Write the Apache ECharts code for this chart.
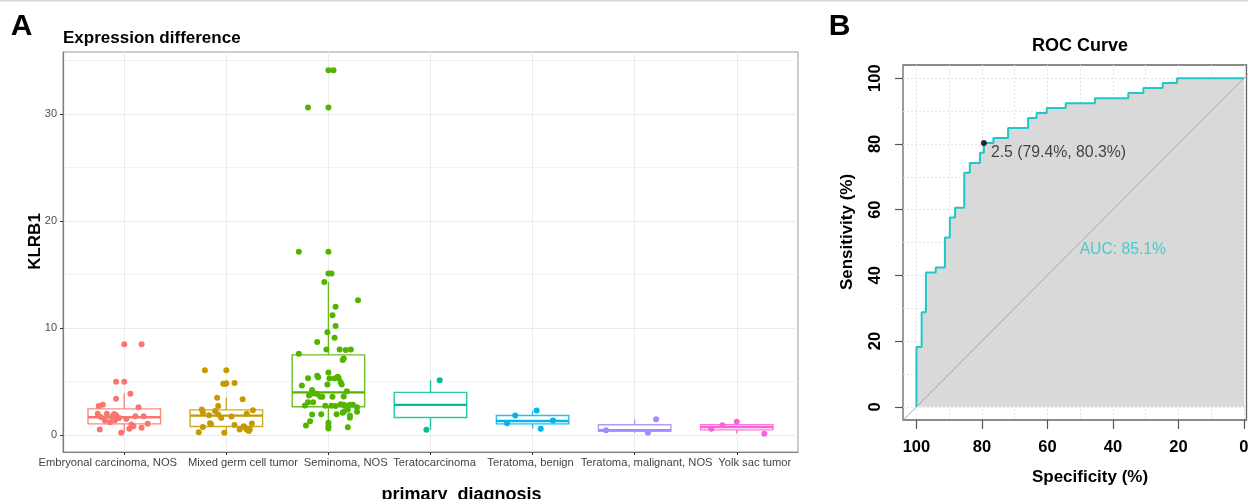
<!DOCTYPE html>
<html><head><meta charset="utf-8">
<script src="https://cdn.jsdelivr.net/npm/echarts@6/dist/echarts.min.js"></script>
<style>html,body{margin:0;padding:0;background:#fff}#c{width:1248px;height:499px}</style>
</head><body><div id="c"></div>
<script>
// ---------------- DATA ----------------
const categories = ["Embryonal carcinoma, NOS","Mixed germ cell tumor","Seminoma, NOS","Teratocarcinoma","Teratoma, benign","Teratoma, malignant, NOS","Yolk sac tumor"];
const boxMin    = [0.22, 0.22, 0.62, 0.50, 0.62, 0.22, 0.15];
const boxQ1     = [1.06, 0.81, 2.65, 1.65, 1.06, 0.37, 0.50];
const boxMedian = [1.68, 1.83, 4.00, 2.83, 1.33, 0.47, 0.75];
const boxQ3     = [2.46, 2.36, 7.50, 4.00, 1.84, 0.97, 0.97];
const boxMax    = [3.90, 3.50, 14.3, 5.13, 2.27, 1.47, 1.25];
// jittered points: [jitter (category units), KLRB1 value]
const ptsEmbryonal = [[0,8.48],[0.17,8.48],[-0.08,5.0],[0,5.0],[-0.08,3.4],[0.06,3.87],[-0.25,2.72],[-0.21,2.85],[0.14,2.6],[-0.26,2.0],[-0.17,2.0],[-0.10,1.98],[-0.08,1.87],[-0.23,1.7],[-0.12,1.7],[-0.05,1.6],[-0.19,1.37],[0.11,1.77],[0.19,1.77],[0.23,1.06],[0.07,1.0],[0.09,0.84],[0.05,0.6],[0.17,0.69],[-0.24,0.53],[-0.03,0.22],[-0.09,1.4],[-0.14,1.2],[0.02,1.5]];
const ptsMixed = [[-0.21,6.06],[0,6.06],[-0.03,4.8],[0,4.85],[-0.01,4.78],[0.08,4.88],[-0.09,3.5],[0.16,3.35],[-0.08,2.73],[-0.24,2.4],[-0.23,2.15],[-0.11,2.25],[0.26,2.33],[0.2,2.0],[-0.17,1.85],[-0.08,1.94],[-0.16,1.12],[-0.15,1.05],[-0.23,0.77],[0.08,0.96],[0.13,0.53],[0.2,0.53],[0.22,0.4],[0.23,0.55],[0.25,1.1],[-0.02,0.22],[-0.27,0.28],[0.17,0.84],[0.18,0.75],[-0.05,1.6],[0.05,1.75]];
const ptsSeminoma = [[0,34.08],[0.05,34.08],[-0.2,30.6],[0,30.6],[-0.29,17.13],[0,17.13],[0,15.1],[0.03,15.1],[-0.04,14.3],[0.29,12.6],[0.07,12.0],[0.04,11.2],[0.07,10.2],[-0.01,9.6],[0.06,9.1],[-0.11,8.7],[-0.02,8.0],[0.11,8.0],[0.17,7.95],[0.22,8.0],[-0.29,7.6],[0.15,7.15],[0.14,7.03],[0,5.85],[-0.11,5.54],[-0.1,5.41],[-0.2,5.32],[0.01,5.3],[0.06,5.3],[0.09,5.45],[0.1,5.33],[0.12,4.95],[0.13,4.73],[-0.01,4.73],[-0.26,4.64],[-0.16,4.23],[-0.16,3.89],[-0.14,3.92],[-0.11,3.85],[0.18,4.1],[-0.08,3.6],[-0.06,3.6],[0.04,3.6],[-0.19,3.7],[0.15,3.62],[-0.2,3.08],[-0.15,3.08],[-0.23,2.77],[-0.03,2.75],[0.03,2.75],[0.07,2.72],[0.12,2.9],[0.15,2.85],[0.16,2.75],[0.21,2.84],[0.24,2.84],[0.28,2.6],[0.19,2.4],[0.15,2.2],[0.14,2.1],[0.28,2.2],[-0.16,1.93],[-0.07,1.96],[0.08,1.96],[0.21,1.83],[0.21,1.62],[-0.18,1.31],[-0.22,0.9],[0,1.15],[0,0.84],[0,0.62],[0.19,0.73]];
const ptsTeratocarcinoma = [[0.09,5.13],[-0.04,0.5]];
const ptsBenign = [[-0.17,1.84],[0.04,2.3],[0.2,1.37],[-0.25,1.12],[0.08,0.6]];
const ptsMalignant = [[0.21,1.49],[-0.28,0.47],[0.13,0.22]];
const ptsYolk = [[0,1.25],[-0.14,0.93],[-0.25,0.6],[0.27,0.13]];
const groupPoints = [ptsEmbryonal, ptsMixed, ptsSeminoma, ptsTeratocarcinoma, ptsBenign, ptsMalignant, ptsYolk];
const yTicksA = [0, 10, 20, 30];
const yMinorA = [5, 15, 25, 35];

// ROC curve vertices (specificity %, sensitivity %)
const rocSpecificity = [100,100,98.4,98.4,97.1,97.1,94.1,94.1,91.3,91.3,89.8,89.8,88.2,88.2,85.4,85.4,83.7,83.7,80.6,80.6,79.4,79.4,76.5,76.5,72.0,72.0,65.9,65.9,63.3,63.3,60.2,60.2,54.4,54.4,45.5,45.5,35.3,35.3,30.7,30.7,24.8,24.8,20.4,20.4,0];
const rocSensitivity = [0,18.2,18.2,28.8,28.8,40.9,40.9,42.4,42.4,51.5,51.5,57.6,57.6,60.6,60.6,71.2,71.2,74.2,74.2,77.3,77.3,80.3,80.3,81.8,81.8,84.8,84.8,87.9,87.9,89.4,89.4,90.9,90.9,92.4,92.4,93.9,93.9,95.5,95.5,97.0,97.0,98.5,98.5,100,100];
const bestThreshold = 2.5, bestSpecificity = 79.4, bestSensitivity = 80.3;
const aucValue = 85.1;
const rocTicks = [0, 20, 40, 60, 80, 100];
const rocGridVals = [0,10,20,30,40,50,60,70,80,90,100];

// ---------------- STYLE / LAYOUT ----------------
const F = "'Liberation Sans', Arial, Helvetica, sans-serif";
const colors = ['#F8766D','#C49A00','#53B400','#00C094','#00B6EB','#A58AFF','#FB61D7'];
const labelShift = [-16.5, 16.7, 17.4, 4, -2, 12, 18];
const catIdx = categories.map((c, i) => i);
const rich = {};
labelShift.forEach((d, i) => {
  rich['s' + i] = { color: '#444', fontSize: 11.2, fontFamily: F,
    padding: d >= 0 ? [0, 0, 0, 2 * d] : [0, -2 * d, 0, 0] };
});
const rocCyan = '#1fc8c8';
const rocXMin = -0.8, rocXMax = 104.1, rocYMin = -4, rocYMax = 104;

const chart = echarts.init(document.getElementById('c'));
const boxHalf = 0.355;

const series = [];
series.push({
  type: 'custom', xAxisIndex: 0, yAxisIndex: 0, z: 2,
  data: categories.map((c, i) => [i, boxMin[i], boxQ1[i], boxMedian[i], boxQ3[i], boxMax[i]]),
  encode: { x: 0, y: [1, 2, 3, 4, 5] },
  renderItem: function (params, api) {
    const i = api.value(0);
    const col = colors[params.dataIndex];
    const pMin = api.coord([i, api.value(1)]);
    const pQ1 = api.coord([i, api.value(2)]);
    const pMed = api.coord([i, api.value(3)]);
    const pQ3 = api.coord([i, api.value(4)]);
    const pMax = api.coord([i, api.value(5)]);
    const xl = api.coord([i - boxHalf, 0])[0];
    const xr = api.coord([i + boxHalf, 0])[0];
    const st = { stroke: col, lineWidth: 1.4, opacity: 0.85 };
    return { type: 'group', children: [
      { type: 'line', shape: { x1: pMax[0], y1: pMax[1], x2: pQ3[0], y2: pQ3[1] }, style: st },
      { type: 'line', shape: { x1: pQ1[0], y1: pQ1[1], x2: pMin[0], y2: pMin[1] }, style: st },
      { type: 'rect', shape: { x: xl, y: pQ3[1], width: xr - xl, height: pQ1[1] - pQ3[1] }, style: { fill: '#fff', stroke: col, lineWidth: 1.4, opacity: 0.85 } },
      { type: 'line', shape: { x1: xl, y1: pMed[1], x2: xr, y2: pMed[1] }, style: { stroke: col, lineWidth: 2.4 } }
    ]};
  }
});
groupPoints.forEach((pts, gi) => {
  series.push({
    type: 'scatter', xAxisIndex: 0, yAxisIndex: 0, z: 3,
    symbolSize: 6, itemStyle: { color: colors[gi], opacity: 1 },
    data: pts.map(p => [gi + p[0], p[1]])
  });
});
const rocData = rocSpecificity.map((s, i) => [s, rocSensitivity[i]]);
series.push({
  type: 'line', xAxisIndex: 1, yAxisIndex: 2, symbol: 'none', z: 2,
  data: rocData, lineStyle: { opacity: 0, width: 0 },
  areaStyle: { color: '#d9d9d9', opacity: 1, origin: 0 }
});
// chance diagonal (sensitivity = 100 - specificity), drawn across the whole plot box
series.push({
  type: 'line', xAxisIndex: 1, yAxisIndex: 2, symbol: 'none', z: 3, clip: true,
  data: [[rocXMax, 100 - rocXMax], [100 - rocYMax, rocYMax]],
  lineStyle: { color: '#aaaaaa', width: 1 }
});
series.push({
  type: 'line', xAxisIndex: 1, yAxisIndex: 2, symbol: 'none', z: 4,
  data: rocData, lineStyle: { color: rocCyan, width: 2 }
});
series.push({
  type: 'scatter', xAxisIndex: 1, yAxisIndex: 2, z: 5, symbolSize: 6,
  itemStyle: { color: '#000' },
  data: [[bestSpecificity, bestSensitivity]],
  label: { show: true, position: 'right', distance: 4, offset: [0, 9.5],
    formatter: () => bestThreshold + ' (' + bestSpecificity.toFixed(1) + '%, ' + bestSensitivity.toFixed(1) + '%)',
    color: '#1a1a1a', fontSize: 15.8, fontFamily: F }
});
series.push({
  type: 'scatter', xAxisIndex: 1, yAxisIndex: 2, z: 5, symbolSize: 1,
  itemStyle: { color: 'transparent' },
  data: [[50, 50]],
  label: { show: true, position: [0, 0], align: 'left', verticalAlign: 'top',
    formatter: () => 'AUC: ' + aucValue.toFixed(1) + '%',
    color: rocCyan, fontSize: 15.7, fontFamily: F }
});

const option = {
  animation: false,
  backgroundColor: '#fff',
  textStyle: { fontFamily: F },
  grid: [
    { left: 63, top: 52, width: 735, height: 400, show: true, borderColor: '#999', borderWidth: 1, backgroundColor: 'rgba(0,0,0,0)', outerBoundsMode: 'none', containLabel: false },
    { left: 903, top: 65, width: 343.5, height: 355, show: true, borderColor: '#666', borderWidth: 1.3, backgroundColor: 'rgba(0,0,0,0)', outerBoundsMode: 'none', containLabel: false }
  ],
  xAxis: [
    { gridIndex: 0, type: 'value', min: -0.6, max: 6.6,
      axisLine: { show: true, onZero: false, lineStyle: { color: '#7f7f7f', width: 1.2 } },
      axisTick: { show: true, customValues: catIdx, length: 3, lineStyle: { color: '#333' } },
      axisLabel: { customValues: catIdx, margin: 5, hideOverlap: false,
        formatter: v => { const i = Math.round(v); return '{s' + i + '|' + categories[i] + '}'; }, rich: rich },
      splitLine: { show: true, lineStyle: { color: '#ebebeb', width: 1 } } },
    { gridIndex: 1, type: 'value', inverse: true, min: rocXMin, max: rocXMax,
      axisLine: { show: false, onZero: false },
      axisTick: { show: true, customValues: rocTicks, length: 9, lineStyle: { color: '#555', width: 1.2 } },
      axisLabel: { customValues: rocTicks, margin: 19, fontSize: 16.5, fontWeight: 'bold', color: '#000', fontFamily: F, hideOverlap: false },
      splitLine: { show: false } },
    { gridIndex: 1, type: 'value', inverse: true, min: rocXMin, max: rocXMax,
      axisLine: { show: false, onZero: false }, axisTick: { show: false, customValues: rocGridVals },
      axisLabel: { show: false }, splitLine: { show: true, lineStyle: { color: '#e3e3e3', type: [2, 2], width: 1 } } }
  ],
  yAxis: [
    { gridIndex: 0, type: 'value', min: -1.57, max: 35.78, position: 'left',
      axisLine: { show: true, onZero: false, lineStyle: { color: '#7f7f7f', width: 1.2 } },
      axisTick: { show: true, customValues: yTicksA, length: 3, lineStyle: { color: '#333' } },
      axisLabel: { customValues: yTicksA, margin: 6, color: '#4d4d4d', fontSize: 11, fontFamily: F },
      splitLine: { show: true, lineStyle: { color: '#ebebeb', width: 1 } } },
    { gridIndex: 0, type: 'value', min: -1.57, max: 35.78, position: 'left',
      axisLine: { show: false, onZero: false }, axisTick: { show: false, customValues: yMinorA },
      axisLabel: { show: false }, splitLine: { show: true, lineStyle: { color: '#f2f2f2', width: 1 } } },
    { gridIndex: 1, type: 'value', min: rocYMin, max: rocYMax, position: 'left',
      axisLine: { show: false, onZero: false },
      axisTick: { show: true, customValues: rocTicks, length: 8, lineStyle: { color: '#555', width: 1.2 } },
      axisLabel: { customValues: rocTicks, rotate: 90, margin: 19, fontSize: 16.5, fontWeight: 'bold', color: '#000', fontFamily: F },
      splitLine: { show: false } },
    { gridIndex: 1, type: 'value', min: rocYMin, max: rocYMax, position: 'left',
      axisLine: { show: false, onZero: false }, axisTick: { show: false, customValues: rocGridVals },
      axisLabel: { show: false }, splitLine: { show: true, lineStyle: { color: '#e3e3e3', type: [2, 2], width: 1 } } }
  ],
  graphic: [
    { type: 'rect', shape: { x: 0, y: 0, width: 1248, height: 1.5 }, style: { fill: '#d6d6d6' }, silent: true },
    { type: 'text', x: 21.5, y: 27, style: { text: 'A', font: 'bold 30px ' + F, fill: '#000', align: 'center', verticalAlign: 'middle' } },
    { type: 'text', x: 839.5, y: 27, style: { text: 'B', font: 'bold 30px ' + F, fill: '#000', align: 'center', verticalAlign: 'middle' } },
    { type: 'text', x: 63, y: 38.5, style: { text: 'Expression difference', font: 'bold 17px ' + F, fill: '#000', align: 'left', verticalAlign: 'middle' } },
    { type: 'text', x: 1080, y: 46.5, style: { text: 'ROC Curve', font: 'bold 18px ' + F, fill: '#000', align: 'center', verticalAlign: 'middle' } },
    { type: 'text', x: 35, y: 241.5, rotation: Math.PI / 2, style: { text: 'KLRB1', font: 'bold 17px ' + F, fill: '#000', align: 'center', verticalAlign: 'middle' } },
    { type: 'text', x: 461.5, y: 495.5, style: { text: 'primary_diagnosis', font: 'bold 18px ' + F, fill: '#000', align: 'center', verticalAlign: 'middle' } },
    { type: 'text', x: 847, y: 232, rotation: Math.PI / 2, style: { text: 'Sensitivity (%)', font: 'bold 17px ' + F, fill: '#000', align: 'center', verticalAlign: 'middle' } },
    { type: 'text', x: 1090, y: 477.5, style: { text: 'Specificity (%)', font: 'bold 17px ' + F, fill: '#000', align: 'center', verticalAlign: 'middle' } }
  ],
  series: series
};
chart.setOption(option);
</script>
</body></html>
